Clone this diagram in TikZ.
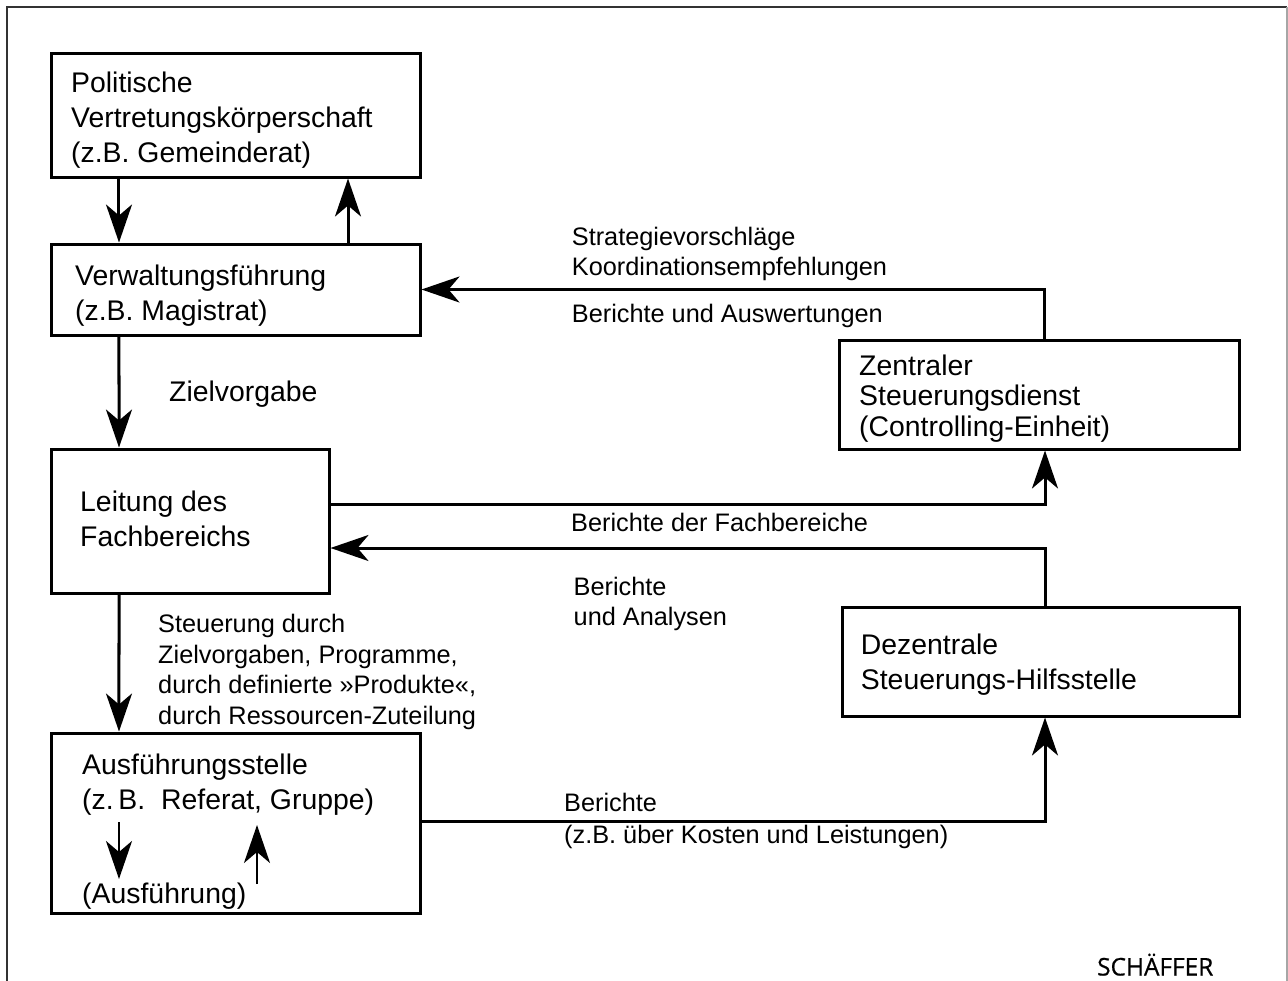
\documentclass[tikz,border=0pt]{standalone}
\usepackage{fontspec}
\setmainfont{Liberation Sans}
\newfontfamily\logofont[FakeBold=0.6]{Open Sans}
\usetikzlibrary{arrows.meta}

\begin{document}
\begin{tikzpicture}[x=1bp,y=-1bp,
  frameline/.style={line width=2bp, draw=black!80},
  box/.style={draw, rectangle, line width=3bp, inner sep=0pt},
  % multi-line texts are placed by the baseline of their last line
  boxtext/.style={anchor=base west, align=left, inner sep=0pt,
    font=\fontsize{28.5}{35}\selectfont},
  lbl/.style={anchor=base west, align=left, inner sep=0pt,
    font=\fontsize{25.4}{30.8}\selectfont},
  conn/.style={line width=3bp},
  arr/.style={conn, -{Stealth[length=38bp,width=26bp,inset=11bp]}},
  smallarr/.style={line width=2.6bp, -{Stealth[length=38bp,width=26bp,inset=11bp]}}
]
\useasboundingbox (0,0) rectangle (1288,981);

% frame, open at the bottom
\draw[frameline] (7,981) -- (7,7) -- (1287,7);
\draw[line width=1.5bp, draw=black!35] (1287,7) -- (1287,981);

% boxes
\node[box, minimum width=368bp, minimum height=124bp] (pol)  at (236,115)    {};
\node[box, minimum width=368bp, minimum height=91bp]  (verw) at (236,289.5)  {};
\node[box, minimum width=277bp, minimum height=144bp] (leit) at (190.5,521)  {};
\node[box, minimum width=368bp, minimum height=180bp] (ausf) at (236,823)    {};
\node[box, minimum width=400bp, minimum height=109bp] (zent) at (1039,394.5) {};
\node[box, minimum width=397bp, minimum height=109bp] (dez)  at (1040.5,661.5) {};

% box texts
\node[boxtext] (polt)  at (71,162.5)  {Politische\\Vertretungskörperschaft\\(z.B. Gemeinderat)};
\node[boxtext] (verwt) at (75,320.3)  {Verwaltungsführung\\(z.B. Magistrat)};
\node[boxtext] (leitt) at (80,546)    {Leitung des\\Fachbereichs};
\node[boxtext, font=\fontsize{28.5}{34.3}\selectfont] (ausft) at (82,809)
  {Ausführungsstelle\\(z.\,B.\ \ Referat, Gruppe)};
\node[boxtext] (ausfu) at (82,903.5)  {(Ausführung)};
\node[boxtext, font=\fontsize{28.5}{30.5}\selectfont] (zentt) at (859,436)
  {Zentraler\\Steuerungsdienst\\(Controlling-Einheit)};
\node[boxtext, font=\fontsize{28.5}{34.3}\selectfont] (dezt) at (860.7,689)
  {Dezentrale\\Steuerungs-Hilfsstelle};

% connector labels
\node[boxtext] (ziel) at (169,401) {Zielvorgabe};
\node[lbl, font=\fontsize{25.4}{30.5}\selectfont] (strat) at (571.7,275.5)
  {Strategievorschläge\\Koordinationsempfehlungen};
\node[lbl] (bua)  at (571.7,322.5)  {Berichte und Auswertungen};
\node[lbl] (bdf)  at (571,531.5)  {Berichte der Fachbereiche};
\node[lbl, font=\fontsize{25.4}{30.7}\selectfont] (bana) at (573.5,625.7)
  {Berichte\\und Analysen};
\node[lbl] (steu) at (158,724.5)
  {Steuerung durch\\Zielvorgaben, Programme,\\durch definierte »Produkte«,\\durch Ressourcen-Zuteilung};
\node[lbl] (ber)  at (564,811.5)  {Berichte};
\node[lbl] (kost) at (564,843)  {(z.B. über Kosten und Leistungen)};

% publisher mark
\node[anchor=base west, inner sep=0pt, font=\logofont\fontsize{24.5}{24.5}\selectfont]
  (logo) at (1097,975.5) {SCHÄFFER};

% connectors
\draw[arr] ([xshift=-117bp]pol.south) -- ([xshift=-117bp]verw.north);
\draw[arr] ([xshift=112bp]verw.north) -- ([xshift=112bp]pol.south);
\draw[arr] ([xshift=5bp]zent.north) |- (verw.east);
\draw[arr] ([xshift=-117bp]verw.south) -- ([xshift=-71.5bp]leit.north);
\draw[arr] ([yshift=17bp]leit.east) -| ([xshift=6bp]zent.south);
\draw[arr] ([xshift=4.5bp]dez.north) |- ([yshift=-27bp]leit.east);
\draw[arr] ([xshift=-71.5bp]leit.south) -- ([xshift=-117bp]ausf.north);
\draw[arr] ([yshift=2bp]ausf.east) -| ([xshift=4.5bp]dez.south);

% arrows inside the executing unit
\coordinate (dnA) at (119,822);
\coordinate (dnB) at (119,879);
\coordinate (upA) at (257,884);
\coordinate (upB) at (257,825);
\draw[smallarr] (dnA) -- (dnB);
\draw[smallarr] (upA) -- (upB);
\end{tikzpicture}
\end{document}
